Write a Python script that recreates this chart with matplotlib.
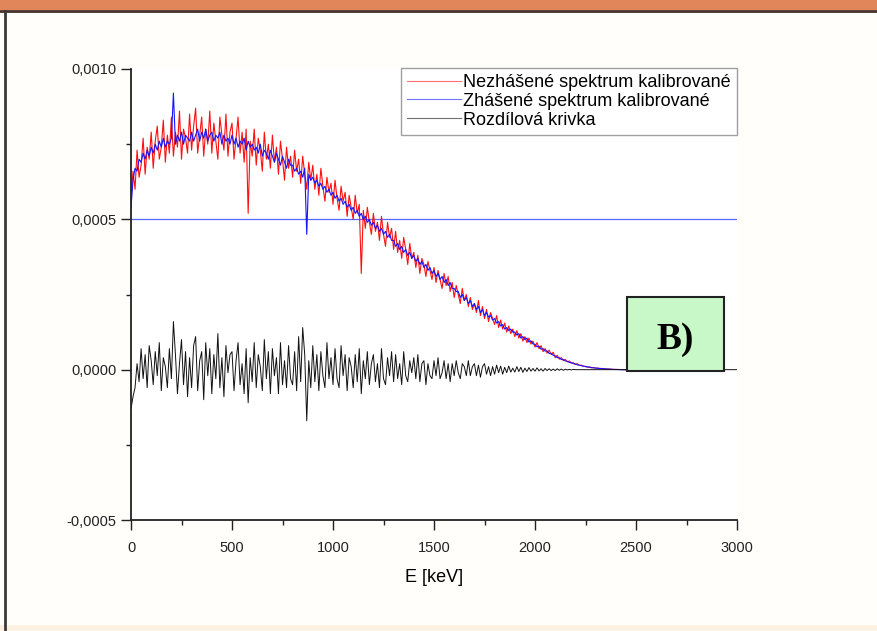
import matplotlib
matplotlib.use("Agg")
import matplotlib.pyplot as plt
from matplotlib.patches import Rectangle
from matplotlib.lines import Line2D
from matplotlib.ticker import MultipleLocator
import numpy as np

# energy grid of the sampled spectra (keV)
energy_kev = list(range(0, 2460, 10))

# values in units of 1e-5, one row per 100 keV
unquenched = [
    57, 66, 60, 73, 64, 68, 77, 65, 74, 70,
    79, 67, 76, 81, 70, 74, 83, 69, 78, 72,
    84, 71, 79, 74, 86, 70, 80, 77, 72, 85,
    73, 81, 87, 72, 78, 84, 71, 80, 75, 86,
    72, 82, 76, 70, 84, 78, 73, 85, 71, 79,
    82, 70, 77, 84, 72, 79, 69, 80, 52, 76,
    71, 80, 68, 77, 73, 66, 79, 70, 75, 67,
    78, 69, 74, 65, 76, 70, 63, 74, 67, 71,
    64, 73, 66, 70, 62, 71, 65, 60, 69, 63,
    68, 60, 65, 58, 67, 61, 56, 64, 59, 62,
    55, 63, 57, 53, 61, 56, 59, 51, 58, 54,
    50, 58, 52, 55, 32, 53, 47, 54, 49, 45,
    52, 46, 49, 43, 51, 45, 41, 49, 44, 47,
    40, 46, 39, 43, 37, 44, 40, 35, 42, 37,
    39, 34, 38, 32, 37, 35, 31, 36, 33, 30,
    34, 29, 33, 30, 27, 32, 28, 31, 26, 29,
    24, 28, 25, 22, 27, 23, 25, 21, 24, 20,
    22, 19, 23, 18, 21, 17, 20, 16, 19, 17,
    15, 18, 14, 16.5, 13.5, 15.5, 12.5, 14.5, 12, 13.5,
    11, 13, 10.5, 12, 9.5, 11, 9, 10.5, 8.5, 9.5,
    7.5, 9, 7, 8, 6, 7, 5.5, 6.5, 5, 5.8,
    4, 4.8, 3.5, 4, 3, 3.4, 2.6, 2.9, 2.2, 2.3,
    1.7, 2, 1.4, 1.5, 1.1, 1.1, 0.8, 0.9, 0.6, 0.7,
    0.5, 0.55, 0.4, 0.4, 0.3, 0.25, 0.2, 0.2, 0.12, 0.1,
    0.08, 0.06, 0.04, 0.02, 0.01, 0,
]
quenched = [
    54, 63, 67, 66, 70, 69, 72, 70, 73, 71,
    74, 72, 75, 73, 76, 74, 77, 74, 76, 75,
    77, 92, 75, 78, 76, 79, 75, 78, 77, 76,
    79, 76, 78, 80, 76, 79, 77, 80, 76, 78,
    79, 76, 78, 77, 79, 75, 78, 76, 77, 75,
    78, 75, 77, 74, 76, 75, 77, 73, 76, 74,
    75, 73, 74, 72, 75, 71, 73, 72, 70, 73,
    71, 69, 72, 70, 68, 71, 69, 67, 70, 68,
    68, 66, 67, 65, 66, 64, 67, 45, 65, 63,
    64, 62, 63, 61, 62, 60, 61, 59, 60, 58,
    59, 57, 58, 56, 57, 55, 56, 54, 55, 53,
    54, 52, 53, 51, 52, 50, 51, 49, 50, 48,
    49, 47, 48, 46, 47, 45, 46, 44, 45, 43,
    43, 41, 42, 40, 41, 39, 40, 38, 39, 37,
    38, 36, 37, 35, 36, 34, 35, 33, 34, 32,
    33, 31, 32, 30, 31, 29, 30, 28, 29, 27,
    27, 26, 26, 24, 25, 23, 24, 22, 23, 21,
    22, 20, 21, 19, 20, 18, 19, 17.5, 18, 16.5,
    17, 15.5, 16, 14.5, 15, 13.5, 14, 13, 13.5, 12.5,
    12.5, 11.5, 12, 10.5, 11, 10, 10.5, 9.2, 9.6, 8.6,
    8.4, 7.6, 7.8, 6.8, 7, 6.2, 6.2, 5.4, 5.4, 4.8,
    4.6, 4, 4, 3.4, 3.4, 2.9, 2.8, 2.4, 2.3, 2,
    1.9, 1.6, 1.5, 1.3, 1.2, 1, 0.95, 0.8, 0.7, 0.6,
    0.55, 0.45, 0.4, 0.33, 0.28, 0.22, 0.18, 0.14, 0.1, 0.08,
    0.06, 0.04, 0.03, 0.01, 0, 0,
]
difference = [
    -13, -9, -6, 2, -4, 7, -3, 5, -6, 8,
    3, -5, 6, -2, 9, -7, 4, 1, -6, 7,
    -3, 16, 5, -8, 2, 10, -5, 6, -9, 4,
    -6, 8, 11, -7, 3, 6, -10, 9, -2, 7,
    -8, 5, -3, 12, -6, 4, -9, 8, -1, 5,
    6, -7, 3, 9, -5, 2, -8, 7, -11, 4,
    -4, 9, -6, 5, 1, -7, 10, -3, 6, -8,
    7, -2, 4, -8, 9, -5, 3, -6, 8, -3,
    -5, 6, -7, 11, -4, 14, 5, -17, 3, -6,
    8, -4, 5, -7, 6, -2, -6, 9, -3, 4,
    -5, 7, -3, -6, 8, -2, 5, -7, 4, 1,
    -6, 5, -4, 7, -8, 3, -3, 6, -5, 2,
    5, -4, 2, -6, 7, -3, -5, 4, -2, 6,
    -4, 5, -3, 2, -5, 6, -2, -4, 3, -1,
    4, -3, 5, -4, 2, 3, -5, 2, -2, -3,
    3, -2, 4, -3, -1, 3, -3, 2, -4, 2,
    -2, 3, -1, -3, 2, 1, -2, 3, -2, 1,
    2, -2, 1.5, -2.5, 1, 2, -1.5, 1, -2, 1,
    -1.5, 1.5, -1, 1.2, -1.5, 0.8, -1, 1.2, -0.8, 0.5,
    -0.8, 1, -0.6, 0.8, -0.9, 0.5, -0.6, 0.7, -0.5, 0.4,
    -0.5, 0.6, -0.4, 0.3, -0.5, 0.4, -0.3, 0.3, -0.3, 0.2,
    -0.3, 0.3, -0.2, 0.2, -0.2, 0.15, -0.1, 0.1, -0.1, 0.1,
    0, 0, 0, 0, 0, 0, 0, 0, 0, 0,
    0, 0, 0, 0, 0, 0, 0, 0, 0, 0,
    0, 0, 0, 0, 0, 0,
]
diff_energy = energy_kev + [2700, 3000]
difference = difference + [0, 0]

reference_level = 0.0005

labels = ["Nezhášené spektrum kalibrované", "Zhášené spektrum kalibrované", "Rozdílová krivka"]
x_ticks = [0, 500, 1000, 1500, 2000, 2500, 3000]
y_ticks = [-0.0005, 0.0, 0.0005, 0.0010]
y_tick_labels = ["-0,0005", "0,0000", "0,0005", "0,0010"]

RED = "#ff1010"
BLUE = "#1515ff"
BLACK = "#111111"

plt.rcParams["font.family"] = ["Liberation Sans", "DejaVu Sans"]

fig = plt.figure(figsize=(8.77, 6.31), dpi=100)
fig.patch.set_facecolor("#fffefb")

# page decorations around the chart
H = 631.0
W = 877.0
fig.patches.append(Rectangle((0, 1 - 10 / H), 1, 10 / H, transform=fig.transFigure,
                             facecolor="#e0865a", edgecolor="none"))
fig.lines.append(Line2D([0, 1], [1 - 11 / H, 1 - 11 / H], transform=fig.transFigure,
                        color="#4a3028", linewidth=2))
fig.lines.append(Line2D([5 / W, 5 / W], [0, 1 - 11 / H], transform=fig.transFigure,
                        color="#3a3a3a", linewidth=2))
fig.patches.append(Rectangle((0, 0), 1, 6 / H, transform=fig.transFigure,
                             facecolor="#fdf2e2", edgecolor="none"))

ax = fig.add_axes([131 / W, 1 - 520 / H, 606 / W, 451 / H])
ax.set_facecolor("white")

scale = 1e-5
ax.axhline(reference_level, color="#5566ff", linewidth=0.9)
ax.plot(energy_kev, np.array(unquenched) * scale, color=RED, linewidth=0.8, label=labels[0])
ax.plot(energy_kev, np.array(quenched) * scale, color=BLUE, linewidth=0.8, label=labels[1])
ax.plot(diff_energy, np.array(difference) * scale, color=BLACK, linewidth=0.7, label=labels[2])

ax.set_xlim(0, 3000)
ax.set_ylim(-0.0005, 0.0010)
ax.set_xticks(x_ticks)
ax.set_yticks(y_ticks)
ax.set_yticklabels(y_tick_labels)
ax.xaxis.set_minor_locator(MultipleLocator(250))
ax.yaxis.set_minor_locator(MultipleLocator(0.00025))
ax.tick_params(which="major", direction="out", length=7, width=1, labelsize=10.5, colors="#222222")
ax.tick_params(axis="x", which="major", pad=8)
ax.tick_params(which="minor", direction="out", length=3.5, width=1, colors="#222222")
ax.set_xlabel("E [keV]", fontsize=13, labelpad=10)

for side in ["top", "right"]:
    ax.spines[side].set_visible(False)
for side in ["left", "bottom"]:
    ax.spines[side].set_linewidth(1.3)
    ax.spines[side].set_color("#222222")

leg = ax.legend(loc="upper right", bbox_to_anchor=(1.0, 1.003), fontsize=13,
                frameon=True, fancybox=False, edgecolor="#888888",
                handlelength=3.0, handletextpad=0.1, labelspacing=0.1,
                borderpad=0.35, borderaxespad=0)
leg.get_frame().set_linewidth(1.0)
for line in leg.get_lines():
    line.set_linewidth(0.8)
    line.set_alpha(0.6)

# "B)" panel marker
ax.add_patch(Rectangle((0.818, 0.330), 0.160, 0.164, transform=ax.transAxes,
                       facecolor="#c8f7c8", edgecolor="#222222", linewidth=1.5, zorder=5))
ax.text(0.898, 0.400, "B)", transform=ax.transAxes, ha="center", va="center",
        fontsize=27, fontweight="bold", family="Liberation Serif", zorder=6)

fig.savefig("out.png", dpi=100, facecolor=fig.get_facecolor())
